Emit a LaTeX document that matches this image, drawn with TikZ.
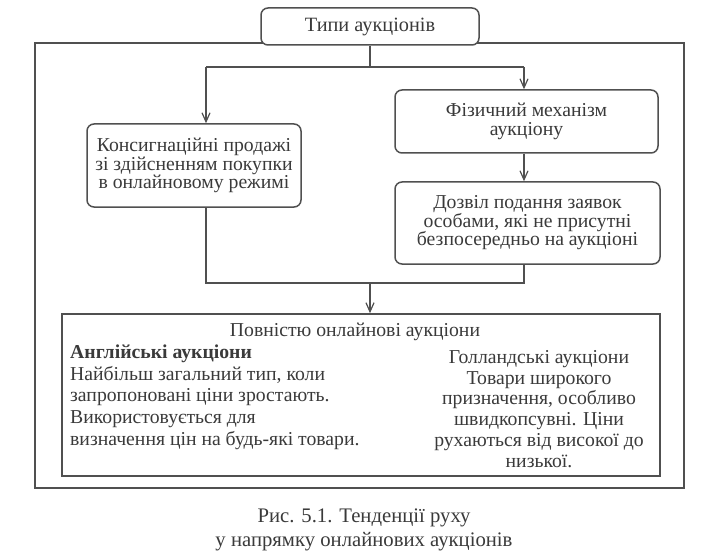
\documentclass[tikz,border=0pt]{standalone}
\usepackage{fontspec}
\setmainfont{Liberation Serif}
\usetikzlibrary{arrows.meta}
\definecolor{ink}{HTML}{3A3A3A}
\definecolor{linec}{HTML}{505050}
\begin{document}
\begin{tikzpicture}[x=1pt,y=-1pt,
  font=\fontsize{19.7}{18.5}\selectfont, text=ink,
  rbox/.style={draw=linec, line width=1.5pt, rounded corners=7pt, fill=white, align=center, inner sep=0pt},
  sbox/.style={draw=linec, line width=1.6pt, inner sep=0pt},
  conn/.style={draw=linec, line width=1.2pt},
  arr/.style={conn, -{Straight Barb[length=9pt,width=8pt]}},
  txt/.style={inner sep=0pt}
]
\fill[white] (0,0) rectangle (714,556);
\useasboundingbox (0,0) rectangle (714,556);
% outer frame
\node[sbox, minimum width=649pt, minimum height=445pt] (frame) at (359.5,265.5) {};
% boxes
\node[rbox, minimum width=218pt, minimum height=37pt, font=\fontsize{20.3}{20}\selectfont] (types) at (370,26.5) {Типи аукціонів};
\node[rbox, minimum width=214pt, minimum height=83pt] (cons) at (194,165.5)
  {Консигнаційні продажі\\зі здійсненням покупки\\в онлайновому режимі};
\node[rbox, minimum width=263pt, minimum height=63pt] (phys) at (526.5,121.5)
  {Фізичний механізм\\аукціону};
\node[rbox, minimum width=265pt, minimum height=82pt] (perm) at (527.5,223)
  {Дозвіл подання заявок\\особами, які не присутні\\безпосередньо на аукціоні};
\node[sbox, minimum width=598pt, minimum height=162pt] (online) at (361,395) {};
% connectors
\coordinate (jl) at (206,67);
\coordinate (jr) at (524,67);
\coordinate (bl) at (206,283);
\coordinate (br) at (524,283);
\draw[conn] (types.south) -- (types.south |- jl);
\draw[conn] (jl) -- (jr);
\draw[arr] (jl) -- (jl |- cons.north);
\draw[arr] (jr) -- (jr |- phys.north);
\draw[arr] (jr |- phys.south) -- (jr |- perm.north);
\draw[conn] (jl |- cons.south) -- (bl) -- (br) -- (jr |- perm.south);
\draw[arr] (types.south |- bl) -- (types.south |- online.north);
% inner texts
\node[txt] (title) at (355,332) {Повністю онлайнові аукціони};
\node[txt, anchor=west, align=left, font=\fontsize{19.7}{21.7}\selectfont] (eng) at (70,397)
  {\textbf{Англійські аукціони}\\Найбільш загальний тип, коли\\запропоновані ціни зростають.\\Використовується для\\визначення цін на будь-які товари.};
\node[txt, align=center, font=\fontsize{19.7}{20.8}\selectfont] (dutch) at (539,409)
  {Голландські аукціони\\Товари широкого\\призначення, особливо\\швидкопсувні. Ціни\\рухаються від високої до\\низької.};
% caption
\node[txt, align=center, font=\fontsize{20.7}{23.5}\selectfont] (cap) at (364,530)
  {Рис. 5.1. Тенденції руху\\у напрямку онлайнових аукціонів};
\end{tikzpicture}
\end{document}
